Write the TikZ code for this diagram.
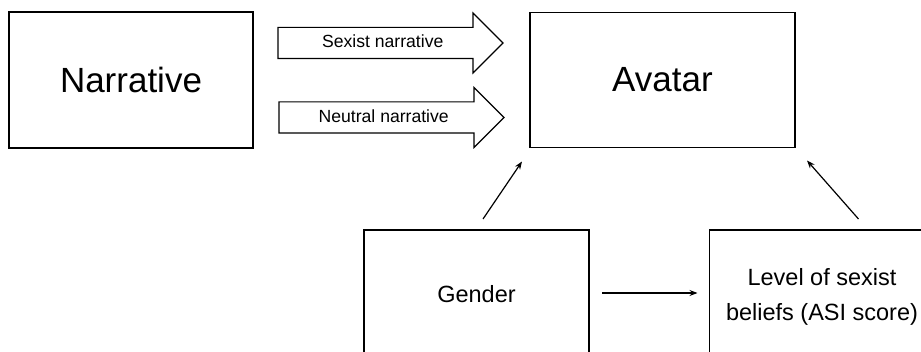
\documentclass[tikz,border=0pt]{standalone}
\usepackage{fontspec}
\setmainfont{Liberation Sans}
\usetikzlibrary{shapes,arrows.meta,positioning,calc}

\begin{document}
\begin{tikzpicture}[
    x=1pt, y=-1pt,
    box/.style={draw, line width=1.1pt, inner sep=0pt, outer sep=0pt, align=center},
    flow/.style={draw, line width=1.1pt, single arrow, single arrow tip angle=90, single arrow head extend=14.5pt, minimum height=225pt, inner xsep=4pt, inner ysep=7.5pt, text height=12.5pt, text depth=2.5pt, outer sep=0pt, font=\fontsize{17.6}{21}\selectfont},
    arr/.style={-{Stealth[length=8pt,width=6pt]}, line width=1.2pt},
]
\useasboundingbox (0,0) rectangle (921,352);

% Top: narrative and avatar
\node[box, minimum width=244pt, minimum height=136pt, font=\fontsize{35}{42}\selectfont] (narr) at (131,80) {Narrative};
\node[box, minimum width=265pt, minimum height=135pt, font=\fontsize{35}{42}\selectfont, right=277pt of narr] (avatar) {Avatar};

% Block arrows between them
\node[flow, anchor=tail] (sexist) at ($(narr.east)+(25,-37)$) {Sexist narrative};
\node[flow, anchor=tail] (neutral) at ($(narr.east)+(26,37.5)$) {Neutral narrative};

% Bottom: gender and sexist beliefs
\node[box, minimum width=225pt, minimum height=134pt, font=\fontsize{23.5}{35}\selectfont] (gender) at (476.5,297) {Gender\vphantom{g}\rule[-7pt]{0pt}{7pt}};
\node[box, minimum width=225pt, minimum height=134pt, font=\fontsize{23.5}{35}\selectfont, right=120.5pt of gender] (level) {Level of sexist\\beliefs (ASI score)};

% Free ends of the arrows
\coordinate (g-from) at ($(gender.north)+(6.5,-11)$);
\coordinate (g-to) at ($(avatar.south west)+(-8,14)$);
\coordinate (l-from) at ($(level.north)+(36.5,-11)$);
\coordinate (l-to) at ($(avatar.south east)+(12,13)$);
\coordinate (gl-from) at ($(gender.east)+(13,-4)$);
\coordinate (gl-to) at ($(level.west)+(-12,-4)$);

% Arrows
\draw[arr] (g-from) -- (g-to);
\draw[arr] (l-from) -- (l-to);
\draw[arr] (gl-from) -- (gl-to);
\end{tikzpicture}
\end{document}
